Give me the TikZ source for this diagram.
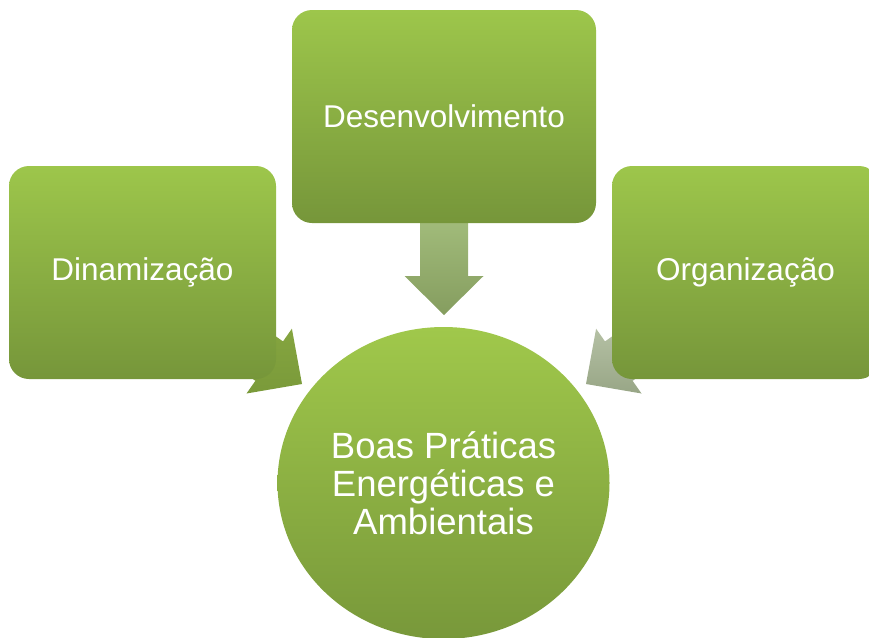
\documentclass[tikz,border=0pt]{standalone}
\usepackage{fontspec}
\setmainfont{Liberation Sans}
\usetikzlibrary{shapes.geometric}
\definecolor{boxtop}{HTML}{9DC64B}
\definecolor{boxbot}{HTML}{76963A}
\definecolor{hubtop}{HTML}{A0C84B}
\definecolor{hubbot}{HTML}{78983A}
\definecolor{arrtopA}{HTML}{A3BD7C}
\definecolor{arrtopB}{HTML}{859D5F}
\definecolor{arrleftA}{HTML}{88A841}
\definecolor{arrleftB}{HTML}{7A9A3A}
\definecolor{arrrightA}{HTML}{BDC8AD}
\definecolor{arrrightB}{HTML}{98A686}
\begin{document}
\begin{tikzpicture}[x=1pt,y=-1pt,
  greenbox/.style={rectangle, rounded corners=20pt, minimum width=267pt, minimum height=213pt,
    inner sep=0pt, top color=boxtop, bottom color=boxbot, text=white,
    font=\fontsize{31.5}{36}\selectfont},
  hub/.style={ellipse, minimum width=332pt, minimum height=312pt, inner sep=0pt,
    top color=hubtop, bottom color=hubbot, text=white, align=center,
    font=\fontsize{36.5}{38}\selectfont},
  blockarrow/.style={draw=none}]
\clip (0,0) rectangle (869,637);
% block arrows (behind the boxes)
\coordinate (tipT) at (444,315);
\coordinate (tipL) at (302,384);
\coordinate (tipR) at (586,384);
\shade[blockarrow, top color=arrtopA, bottom color=arrtopB]
  (420,215) -- (468,215) -- (468,276) -- (483.5,276) -- (tipT) -- (404.5,276) -- (420,276) -- cycle;
\shade[blockarrow, top color=arrleftA, bottom color=arrleftB]
  (238.8,310.3) -- (283,341.4) -- (291.9,328.7) -- (tipL) -- (246.5,393.5) -- (255.4,380.8) -- (211.2,349.7) -- cycle;
\shade[blockarrow, top color=arrrightA, bottom color=arrrightB]
  (649.2,310.3) -- (605,341.4) -- (596.1,328.7) -- (tipR) -- (641.5,393.5) -- (632.6,380.8) -- (676.8,349.7) -- cycle;
% boxes
\node[greenbox] (din) at (142.5,272.5) {Dinamização};
\node[greenbox, minimum width=304pt] (des) at (444,116.5) {Desenvolvimento};
\node[greenbox] (org) at (745.5,272.5) {Organização};
% hub
\node[hub] (hub) at (443.5,483) {Boas Práticas\\Energéticas e\\Ambientais};
\end{tikzpicture}
\end{document}
